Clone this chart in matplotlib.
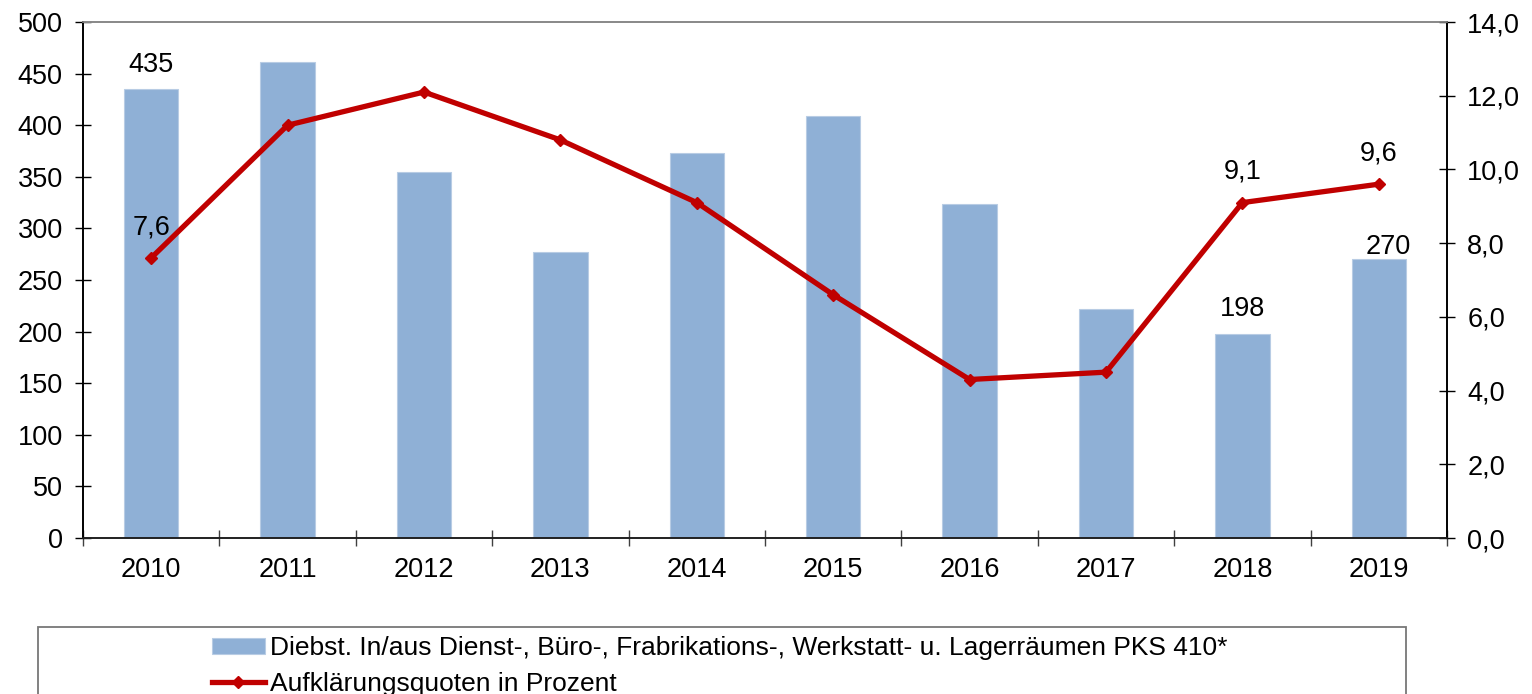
import matplotlib
matplotlib.use('Agg')
import matplotlib.pyplot as plt
from matplotlib.patches import Rectangle
from matplotlib.ticker import FuncFormatter, MultipleLocator, FixedLocator

# ---- data ----
years = ['2010', '2011', '2012', '2013', '2014', '2015', '2016', '2017', '2018', '2019']
cases = [435, 461, 355, 277, 373, 409, 324, 222, 198, 270]
rates = [7.6, 11.2, 12.1, 10.8, 9.1, 6.6, 4.3, 4.5, 9.1, 9.6]
labeled_bars = ['2010', '2018', '2019']
labeled_rates = ['2010', '2018', '2019']
bar_name = 'Diebst. In/aus Dienst-, Büro-, Frabrikations-, Werkstatt- u. Lagerräumen PKS 410*'
line_name = 'Aufklärungsquoten in Prozent'

# ---- style ----
plt.rcParams['font.family'] = ['Liberation Sans', 'DejaVu Sans']
FS = 19.5
LFS = 19
BAR_COLOR = '#8FB0D6'
LINE_COLOR = '#C00000'

fig = plt.figure(figsize=(15.32, 6.94), dpi=100)
ax = fig.add_axes([83 / 1532, 1 - 538 / 694, (1447 - 83) / 1532, (538 - 22) / 694])
ax2 = ax.twinx()

x = list(range(len(years)))
bars = ax.bar(x, cases, width=0.4, color=BAR_COLOR, edgecolor='#B8CCE4', linewidth=0.8, zorder=2)
line, = ax2.plot(x, rates, color=LINE_COLOR, linewidth=3.8, marker='D', markersize=6.5,
                 markeredgecolor=LINE_COLOR, markerfacecolor=LINE_COLOR, zorder=3)

ax.set_xlim(-0.5, len(years) - 0.5)
ax.set_ylim(0, 500)
ax2.set_ylim(0, 14)
ax.yaxis.set_major_locator(MultipleLocator(50))
ax2.yaxis.set_major_locator(MultipleLocator(2))
ax2.yaxis.set_major_formatter(FuncFormatter(lambda v, p: f'{v:.1f}'.replace('.', ',')))

ax.set_xticks(x)
ax.set_xticklabels(years)
ax.xaxis.set_minor_locator(FixedLocator([i - 0.5 for i in range(len(years) + 1)]))
ax.tick_params(axis='x', which='major', length=0, pad=14, labelsize=FS)
ax.tick_params(axis='x', which='minor', direction='inout', length=11, width=1, color='#404040')
ax.tick_params(axis='y', direction='inout', length=11, width=1, pad=9, labelsize=FS)
ax2.tick_params(axis='y', direction='inout', length=11, width=1, pad=9, labelsize=FS)

for a in (ax, ax2):
    a.spines['top'].set_color('#888888')
    a.spines['left'].set_color('black')
    a.spines['right'].set_color('black')
    a.spines['bottom'].set_color('#202020')
    for s in a.spines.values():
        s.set_linewidth(1.2)

# data labels
bar_offsets = {'2010': (0, 12), '2018': (0, 13), '2019': (7, 4)}
for i, y in enumerate(years):
    if y in labeled_bars:
        ax.annotate(str(cases[i]), (x[i], cases[i]), xytext=bar_offsets[y], textcoords='offset points',
                    ha='center', va='baseline', fontsize=FS)
for i, y in enumerate(years):
    if y in labeled_rates:
        ax2.annotate(f'{rates[i]:.1f}'.replace('.', ','), (x[i], rates[i]), xytext=(0, 17),
                     textcoords='offset points', ha='center', va='baseline', fontsize=FS)

# legend frame
fig.patches.append(Rectangle((38 / 1532, -0.05), (1406 - 38) / 1532, 0.05 + (694 - 627) / 694,
                             transform=fig.transFigure, fill=False, edgecolor='#777777', linewidth=1.3))
leg = fig.legend([bars, line], [bar_name, line_name], loc='upper left',
                 bbox_to_anchor=(212 / 1532, 1 - 636 / 694), frameon=False, fontsize=LFS,
                 handlelength=2.0, handleheight=0.55, handletextpad=0.2, labelspacing=0.45,
                 borderpad=0.0, borderaxespad=0.0)

fig.savefig('out.png', dpi=100)
